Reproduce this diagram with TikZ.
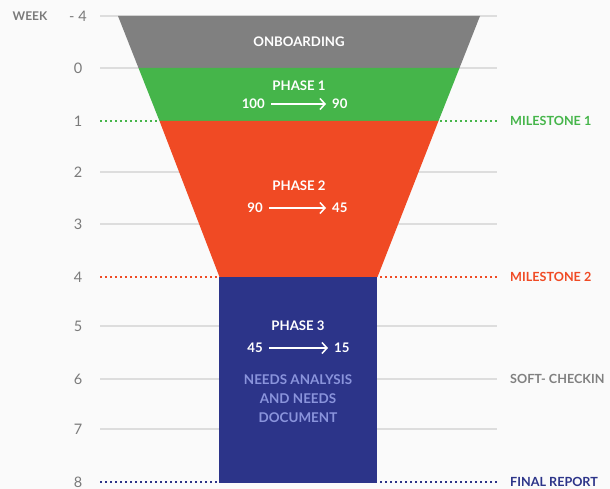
\documentclass[tikz,border=0pt]{standalone}
\usepackage{fontspec}
\setmainfont{Lato}
\usetikzlibrary{arrows.meta}
\definecolor{bg}{HTML}{FAFAFA}
\definecolor{gridc}{HTML}{DDDDDD}
\definecolor{numc}{HTML}{7A7A7A}
\definecolor{onb}{HTML}{808080}
\definecolor{grn}{HTML}{45B54A}
\definecolor{rd}{HTML}{F04A24}
\definecolor{bl}{HTML}{2C3489}
\definecolor{lav}{HTML}{8A94DC}
\tikzset{
  gridline/.style={gridc, line width=1.6pt},
  dotline/.style={line width=1.3pt, dash pattern=on 2pt off 3pt},
  weeknum/.style={numc, font=\fontsize{14.5}{16}\selectfont, anchor=center, inner sep=0pt},
  sidelab/.style={font=\bfseries\fontsize{12.6}{14}\selectfont, anchor=west, inner sep=0pt},
  intext/.style={white, font=\bfseries\fontsize{13.2}{15}\selectfont, inner sep=0pt},
  flowarr/.style={white, line width=1.5pt, -{Straight Barb[length=5pt,width=11pt,line width=1.5pt]}, shorten <=6pt, shorten >=6pt},
  lavtext/.style={lav, font=\bfseries\fontsize{13.4}{19}\selectfont, align=center, inner sep=0pt}
}
\begin{document}
\begin{tikzpicture}[x=1pt,y=-1pt]
\fill[bg] (0,0) rectangle (610,489);
\useasboundingbox (0,0) rectangle (610,489);
% week labels
\node[numc, font=\bfseries\fontsize{12}{14}\selectfont, inner sep=0pt] (week) at (30,16) {WEEK};
\node[weeknum] (wm4) at (78,16) {- 4};
\node[weeknum] (w0) at (78,68) {0};
\node[weeknum] (w1) at (78,121) {1};
\node[weeknum] (w2) at (78,172) {2};
\node[weeknum] (w3) at (78,224) {3};
\node[weeknum] (w4) at (78,277) {4};
\node[weeknum] (w5) at (78,326) {5};
\node[weeknum] (w6) at (78,379) {6};
\node[weeknum] (w7) at (78,429) {7};
\node[weeknum] (w8) at (78,482) {8};
% grid lines
\foreach \yy in {16,68,172,224,326,429} {\draw[gridline] (100,\yy) -- (497,\yy);}
\draw[gridline] (100,379) coordinate (s0) -- (497,379) coordinate (s1);
\draw[dotline, grn] (100,121) -- (497,121);
\draw[dotline, rd] (100,277) -- (497,277);
\draw[dotline, bl] (100,482) -- (497,482);
% funnel
\fill[onb] (118,16) -- (480,16) -- (459.5,68) -- (138.5,68) -- cycle;
\fill[grn] (138.5,68) -- (459.5,68) -- (438.5,121) -- (159.5,121) -- cycle;
\fill[rd] (159.5,121) -- (438.5,121) -- (377.5,277) -- (219.5,277) -- cycle;
\fill[bl] (219,277) rectangle (377,482.5);
% texts in funnel
\node[intext] (onboard) at (299,42) {ONBOARDING};
\node[intext] (ph1) at (299,86) {PHASE 1};
\node[intext, anchor=east] (a1) at (265,104) {100};
\node[intext, anchor=west] (b1) at (332,104) {90};
\draw[flowarr] (a1.east) -- (b1.west);
\node[intext] (ph2) at (299,186) {PHASE 2};
\node[intext, anchor=east] (a2) at (263,208) {90};
\node[intext, anchor=west] (b2) at (332,208) {45};
\draw[flowarr] (a2.east) -- (b2.west);
\node[intext] (ph3) at (298,326) {PHASE 3};
\node[intext, anchor=east] (a3) at (263,348) {45};
\node[intext, anchor=west] (b3) at (334,348) {15};
\draw[flowarr] (a3.east) -- (b3.west);
\node[lavtext] (needs) at (298,399) {NEEDS ANALYSIS\\AND NEEDS\\DOCUMENT};
% side labels
\node[sidelab, grn] (m1) at (510,121) {MILESTONE 1};
\node[sidelab, rd] (m2) at (510,277) {MILESTONE 2};
\node[sidelab, onb] (sc) at (510,379) {SOFT- CHECKIN};
\node[sidelab, bl] (fr) at (510,482) {FINAL REPORT};
\end{tikzpicture}
\end{document}
